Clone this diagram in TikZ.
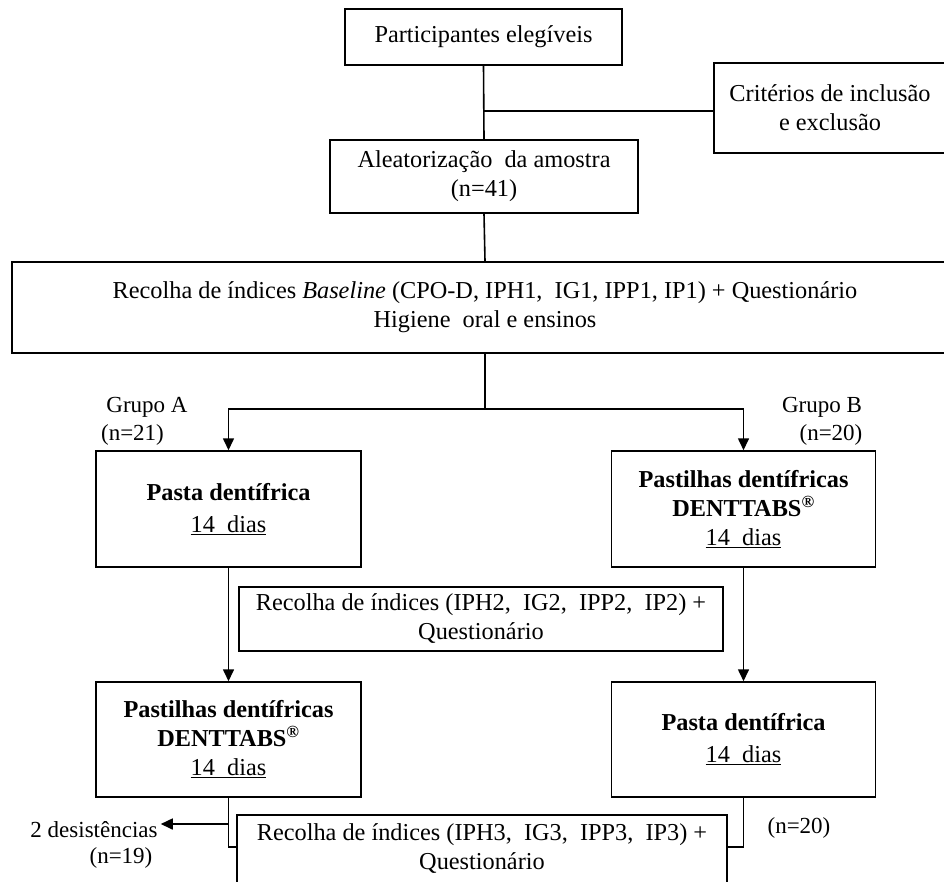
\documentclass[tikz,border=0pt]{standalone}
\usepackage{fontspec}
\setmainfont{Liberation Serif}
\usetikzlibrary{arrows.meta}
\begin{document}
\begin{tikzpicture}[x=1pt,y=-1pt,
  box/.style={draw, line width=1.5pt, align=center, inner sep=0pt, font=\fontsize{24.3}{29}\selectfont},
  lbl/.style={inner sep=0pt, align=center, font=\fontsize{23}{28}\selectfont},
  conn/.style={line width=1.6pt},
  arr/.style={conn, -{Triangle[length=12pt,width=11pt]}}]
\clip (0,0) rectangle (944,881);
\fill[white] (0,0) rectangle (944,881);
% boxes
\node[box, minimum width=277pt, minimum height=56pt] (top) at (483.5,37) {Participantes elegíveis};
\node[box, minimum width=232pt, minimum height=90pt] (crit) at (830,108) {Critérios de inclusão\\e exclusão};
\node[box, minimum width=308pt, minimum height=73pt] (alea) at (484,176.5) {Aleatorização~ da amostra\\(n=41)};
\node[box, minimum width=946pt, minimum height=91pt] (base) at (485,307.5) {Recolha de índices \textit{Baseline} (CPO-D, IPH1,~ IG1, IPP1, IP1) + Questionário\\Higiene~ oral e ensinos};
\node[box, minimum width=265pt, minimum height=116pt] (A1) at (228.5,509) {\textbf{Pasta dentífrica}\\[3pt]\underline{14~ dias}};
\node[box, minimum width=264pt, minimum height=116pt] (B1) at (743.5,509) {\textbf{Pastilhas dentífricas}\\\textbf{DENTTABS\textsuperscript{®}}\\\underline{14~ dias}};
\node[box, minimum width=484pt, minimum height=64pt] (mid) at (481,619) {Recolha de índices (IPH2,~ IG2,~ IPP2,~ IP2) +\\Questionário};
\node[box, minimum width=265pt, minimum height=115pt] (A2) at (228.5,739.5) {\textbf{Pastilhas dentífricas}\\\textbf{DENTTABS\textsuperscript{®}}\\\underline{14~ dias}};
\node[box, minimum width=264pt, minimum height=115pt] (B2) at (743.5,739.5) {\textbf{Pasta dentífrica}\\[3pt]\underline{14~ dias}};
\node[box, minimum width=490pt, minimum height=68pt] (bot) at (482,849) {Recolha de índices (IPH3,~ IG3,~ IPP3,~ IP3) +\\Questionário};
% labels
\node[lbl] (ga) at (147,407) {Grupo A};
\node[lbl] (na) at (132.5,435) {(n=21)};
\node[lbl] (gb) at (822,407) {Grupo B};
\node[lbl] (nb) at (831,435) {(n=20)};
\node[lbl] (des) at (94,830) {2 desistências};
\node[lbl] (n19) at (121,858) {(n=19)};
\node[lbl] (n20) at (799,828) {(n=20)};
% connectors
\draw[conn] (top.south) -- (alea.north);
\coordinate (j1) at (483.5,111);
\draw[conn] (j1) -- (j1 -| crit.west);
\draw[conn] (alea.south) -- (base.north);
\coordinate (s) at (485,409);
\draw[conn] (base.south) -- (s);
\draw[arr] (s) -| (A1.north);
\draw[arr] (s) -| (B1.north);
\draw[arr] (A1.south) -- (A2.north);
\draw[arr] (B1.south) -- (B2.north);
\coordinate (lj) at (228.5,847);
\draw[conn] (A2.south) -- (lj) -- (lj -| bot.west);
\coordinate (la) at (228.5,824);
\draw[arr] (la) -- ([xshift=3pt]la -| des.east);
\coordinate (rj) at (743.5,847);
\draw[conn] (B2.south) -- (rj) -- (rj -| bot.east);
\end{tikzpicture}
\end{document}
